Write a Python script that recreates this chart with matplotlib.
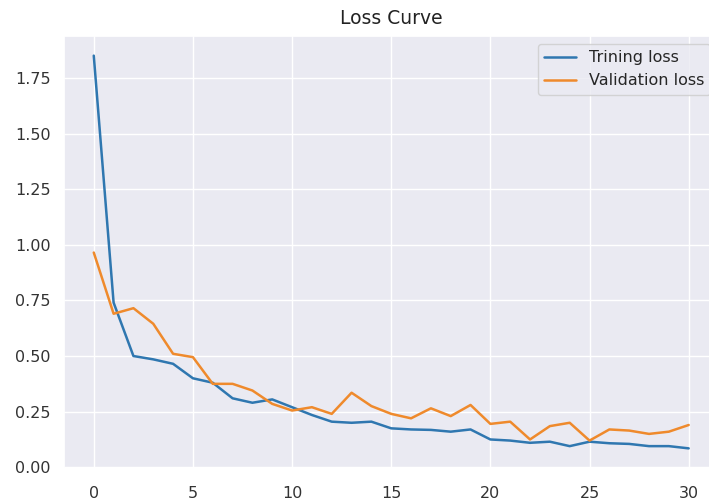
import matplotlib
matplotlib.use("Agg")
import matplotlib.pyplot as plt
import seaborn as sns

# valores
epocas = list(range(31))
perda_treino = [1.85, 0.74, 0.50, 0.485, 0.465, 0.40, 0.38, 0.31, 0.29, 0.305,
                0.27, 0.235, 0.205, 0.20, 0.205, 0.175, 0.17, 0.168, 0.16, 0.17,
                0.125, 0.12, 0.11, 0.115, 0.095, 0.115, 0.108, 0.105, 0.095, 0.095,
                0.085]
perda_validacao = [0.965, 0.69, 0.715, 0.645, 0.51, 0.495, 0.375, 0.375, 0.345, 0.285,
                   0.255, 0.27, 0.24, 0.335, 0.275, 0.24, 0.22, 0.265, 0.23, 0.28,
                   0.195, 0.205, 0.125, 0.185, 0.2, 0.12, 0.17, 0.165, 0.15, 0.16,
                   0.19]

sns.set_theme(style="darkgrid")
plt.rcParams["font.family"] = ["DejaVu Sans"]

fig = plt.figure(figsize=(7.09, 5.0), dpi=100)
ax = fig.add_axes([0.0903, 0.064, 0.923, 0.864])

ax.plot(epocas, perda_treino, color="#2f77b0", linewidth=1.8, label="Trining loss")
ax.plot(epocas, perda_validacao, color="#ef8a2c", linewidth=1.8, label="Validation loss")

ax.set_title("Loss Curve", fontsize=13.5, pad=9, color="#222222")
ax.tick_params(axis="both", labelsize=11.5, colors="#333333")
ax.tick_params(axis="x", pad=7)
ax.legend(loc="upper right", fontsize=11.5)

fig.savefig("out.png", dpi=100)
plt.close(fig)
